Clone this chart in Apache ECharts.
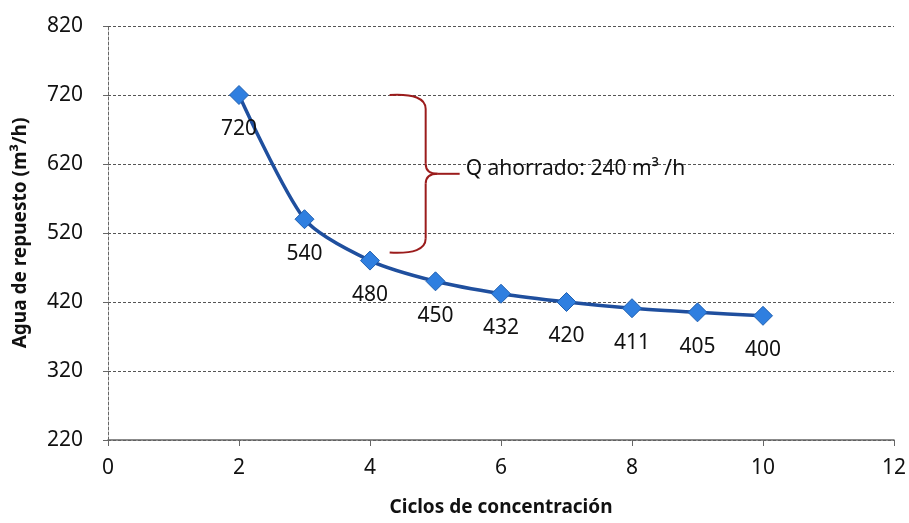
<!DOCTYPE html>
<html>
<head>
<meta charset="utf-8">
<script src="https://cdn.jsdelivr.net/npm/echarts@6/dist/echarts.min.js"></script>
<style>
  html, body { margin: 0; padding: 0; background: #fff; }
  #chart { width: 909px; height: 523px; }
</style>
</head>
<body>
<div id="chart"></div>
<script>
const ciclos = [2, 3, 4, 5, 6, 7, 8, 9, 10]
const aguaRepuesto = [720, 540, 480, 450, 432, 420, 411, 405, 400]
const ahorroDesde = 720
const ahorroHasta = 480
const ahorroTexto = 'Q ahorrado: 240 m³ /h'

const font = 'Noto Sans'
const chart = echarts.init(document.getElementById('chart'))

chart.setOption({
  animation: false,
  grid: { left: 108, right: 6, top: 26, bottom: 83 },
  xAxis: {
    type: 'value',
    min: 0,
    max: 12,
    interval: 2,
    name: 'Ciclos de concentración',
    nameLocation: 'middle',
    nameGap: 58,
    nameTextStyle: { fontFamily: font, fontSize: 19, fontWeight: 'bold', color: '#111' },
    axisLine: { show: true, lineStyle: { color: '#666', width: 1.5 } },
    axisTick: { show: true, length: 6, lineStyle: { color: '#666' } },
    axisLabel: { fontFamily: font, fontSize: 21, color: '#111', margin: 18 },
    splitLine: { show: false },
  },
  yAxis: {
    type: 'value',
    min: 220,
    max: 820,
    interval: 100,
    name: 'Agua de repuesto (m³/h)',
    nameLocation: 'middle',
    nameGap: 78,
    nameTextStyle: { fontFamily: font, fontSize: 19, fontWeight: 'bold', color: '#111' },
    axisLine: { show: true, lineStyle: { color: '#666', type: [3, 2] } },
    axisTick: { show: true, length: 5, lineStyle: { color: '#666' } },
    axisLabel: { fontFamily: font, fontSize: 21, color: '#111', margin: 25 },
    splitLine: { show: true, lineStyle: { color: '#555', type: [3, 2], width: 1 } },
  },
  series: [
    {
      type: 'line',
      data: ciclos.map((c, i) => [c, aguaRepuesto[i]]),
      smooth: 0.25,
      symbol: 'diamond',
      symbolSize: 19,
      lineStyle: { color: '#1f4f9e', width: 3.5 },
      itemStyle: { color: '#2f7fe0', borderColor: '#1f5fb0', borderWidth: 1 },
      label: {
        show: true,
        position: 'bottom',
        distance: 14,
        fontFamily: font,
        fontSize: 21,
        color: '#111',
        formatter: (p) => p.value[1],
      },
    },
  ],
})

// llave de anotación entre 720 y 480
const yTop = chart.convertToPixel({ yAxisIndex: 0 }, ahorroDesde)
const yBot = chart.convertToPixel({ yAxisIndex: 0 }, ahorroHasta) - 8
const xL = chart.convertToPixel({ xAxisIndex: 0 }, 4.3)
const xR = chart.convertToPixel({ xAxisIndex: 0 }, 4.85)
const xTip = xR + 12
const yMid = (yTop + yBot) / 2
const braceStyle = { fill: null, stroke: '#9b1c1c', lineWidth: 2 }

chart.setOption({
  graphic: [
    { type: 'bezierCurve', shape: { x1: xL, y1: yTop, x2: xR, y2: yTop + 14, cpx1: xR, cpy1: yTop - 2 }, style: braceStyle },
    { type: 'line', shape: { x1: xR, y1: yTop + 14, x2: xR, y2: yMid - 10 }, style: braceStyle },
    { type: 'bezierCurve', shape: { x1: xR, y1: yMid - 10, x2: xTip, y2: yMid, cpx1: xR, cpy1: yMid }, style: braceStyle },
    { type: 'bezierCurve', shape: { x1: xTip, y1: yMid, x2: xR, y2: yMid + 10, cpx1: xR, cpy1: yMid }, style: braceStyle },
    { type: 'line', shape: { x1: xR, y1: yMid + 10, x2: xR, y2: yBot - 14 }, style: braceStyle },
    { type: 'bezierCurve', shape: { x1: xR, y1: yBot - 14, x2: xL, y2: yBot, cpx1: xR, cpy1: yBot + 2 }, style: braceStyle },
    { type: 'line', shape: { x1: xTip, y1: yMid, x2: xTip + 22, y2: yMid }, style: braceStyle },
    {
      type: 'text',
      left: xTip + 28,
      top: yMid - 15,
      style: { text: ahorroTexto, fontFamily: font, fontSize: 21, fill: '#111' },
    },
  ],
})
</script>
</body>
</html>
